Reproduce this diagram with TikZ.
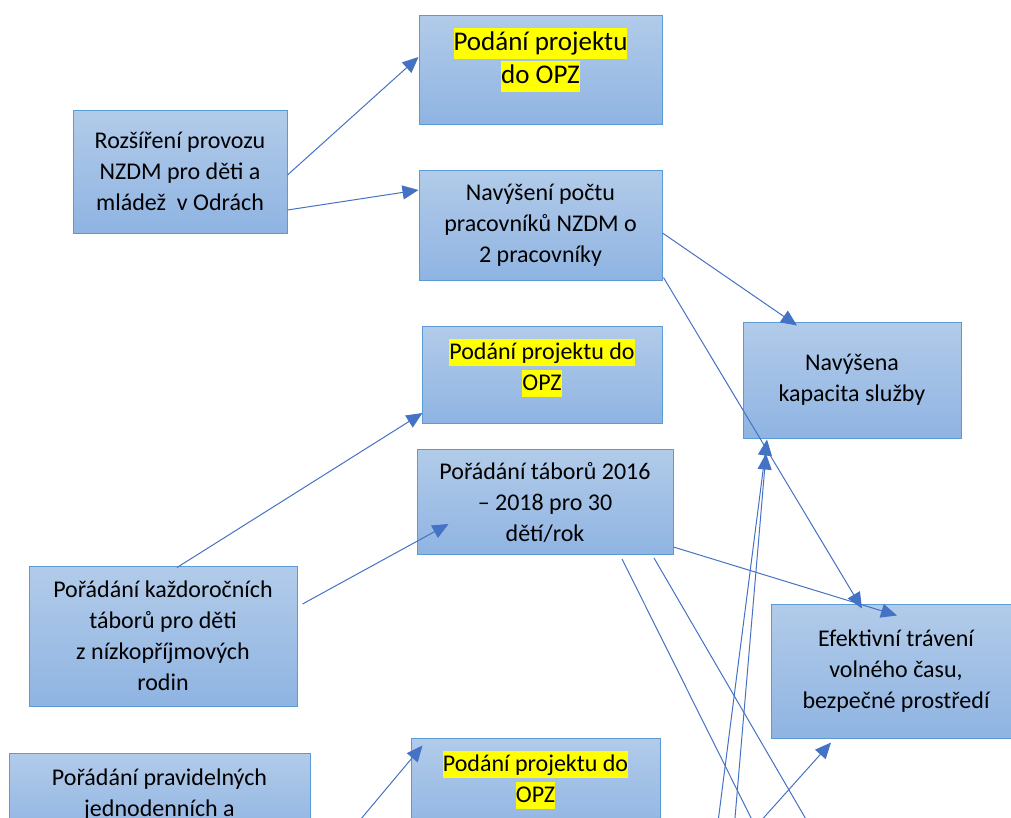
\documentclass[tikz,border=0pt]{standalone}
\usepackage{fontspec}
\setmainfont{Carlito}
\definecolor{boxtop}{HTML}{B2CBE9}
\definecolor{boxbottom}{HTML}{8FB4E2}
\definecolor{boxline}{HTML}{5B9BD5}
\definecolor{linkcol}{HTML}{4472C4}
\definecolor{hlyellow}{HTML}{FFFF00}
\usetikzlibrary{arrows.meta}
\newcommand{\hlt}[1]{{\setlength{\fboxsep}{0pt}\colorbox{hlyellow}{\rule[-0.3em]{0pt}{1.15em}#1}}}

\begin{document}
\begin{tikzpicture}[x=1pt, y=-1pt,
  box/.style={draw=boxline, line width=1pt, top color=boxtop, bottom color=boxbottom,
    align=center, inner sep=0pt, font=\fontsize{24}{31}\selectfont},
  arr/.style={draw=linkcol, line width=1pt, -{Triangle[length=16pt,width=14pt]}},
  lnk/.style={draw=linkcol, line width=1pt}]
  \useasboundingbox (0,0) rectangle (1011,817);
  \clip (0,0) rectangle (1011,817);

  % Boxes
  \node[box, minimum width=243pt, minimum height=109pt, font=\fontsize{27}{33}\selectfont] (opz1) at (540.5,69.5)
    {\hlt{Podání projektu}\\\hlt{do OPZ}\\[-5pt]\mbox{}};
  \node[box, minimum width=214pt, minimum height=123pt] (nzdm) at (180,171.5)
    {Rozšíření provozu\\NZDM pro děti a\\mládež\ \ v Odrách};
  \node[box, minimum width=243pt, minimum height=110pt] (staff) at (540.5,225)
    {Navýšení počtu\\pracovníků NZDM o\\2 pracovníky};
  \node[box, minimum width=240pt, minimum height=97pt] (opz2) at (542,374.5)
    {\hlt{Podání projektu do}\\\hlt{OPZ}\\[-11pt]\mbox{}};
  \node[box, minimum width=218pt, minimum height=116pt] (capac) at (852,380)
    {Navýšena\\kapacita služby};
  \node[box, minimum width=256pt, minimum height=105pt] (camps) at (545,502)
    {Pořádání táborů 2016\\– 2018 pro 30\\dětí/rok};
  \node[box, minimum width=268pt, minimum height=140pt] (yearly) at (163,636)
    {Pořádání každoročních\\táborů pro děti\\z nízkopříjmových\\rodin};
  \node[box, minimum width=250pt, minimum height=134pt] (leisure) at (896,671)
    {Efektivní trávení\\volného času,\\bezpečné prostředí};
  \node[box, minimum width=301pt, minimum height=84pt] (daily) at (159.5,795)
    {Pořádání pravidelných\\jednodenních a};
  \node[box, minimum width=249pt, minimum height=97pt] (opz3) at (535.5,786.5)
    {\hlt{Podání projektu do}\\\hlt{OPZ}\\[-11pt]\mbox{}};

  % Loose ends below the page
  \coordinate (low1) at (792,900);
  \coordinate (low2) at (853,900);
  \coordinate (up1) at (708,900);
  \coordinate (up2) at (728,900);
  \coordinate (up3) at (690,900);
  \coordinate (up4) at (293,900);

  % Arrows
  \draw[arr] ([yshift=-3.5pt]nzdm.east) -- ([yshift=12.5pt]opz1.west);
  \draw[arr] ([yshift=-38.5pt]nzdm.east) -- ([yshift=35pt]staff.west);
  \draw[arr] ([yshift=-8pt]staff.east) -- ([xshift=-55pt,yshift=-4pt]capac.north);
  \draw[arr] ([xshift=1pt,yshift=3pt]staff.south east) -- ([xshift=-34pt,yshift=-5pt]leisure.north);
  \draw[arr] ([yshift=-45pt]camps.east) -- ([xshift=1pt,yshift=-12pt]leisure.north);
  \draw[arr] ([xshift=14pt,yshift=-2pt]yearly.north) -- ([xshift=1pt,yshift=-38.5pt]opz2.west);
  \draw[arr] ([xshift=5pt,yshift=32pt]yearly.east) -- ([xshift=32pt,yshift=31pt]camps.south west);
  \draw[lnk] ([xshift=77pt,yshift=-4pt]camps.south) -- (low1);
  \draw[lnk] ([xshift=109pt,yshift=-3pt]camps.south) -- (low2);
  \draw[arr] (up1) -- ([xshift=-85pt,yshift=-1pt]capac.south);
  \draw[arr] (up2) -- ([xshift=-86pt,yshift=-15pt]capac.south);
  \draw[arr] (up3) -- ([xshift=-65pt,yshift=-4pt]leisure.south);
  \draw[arr] (up4) -- ([xshift=12pt,yshift=-8pt]opz3.north west);
\end{tikzpicture}
\end{document}
